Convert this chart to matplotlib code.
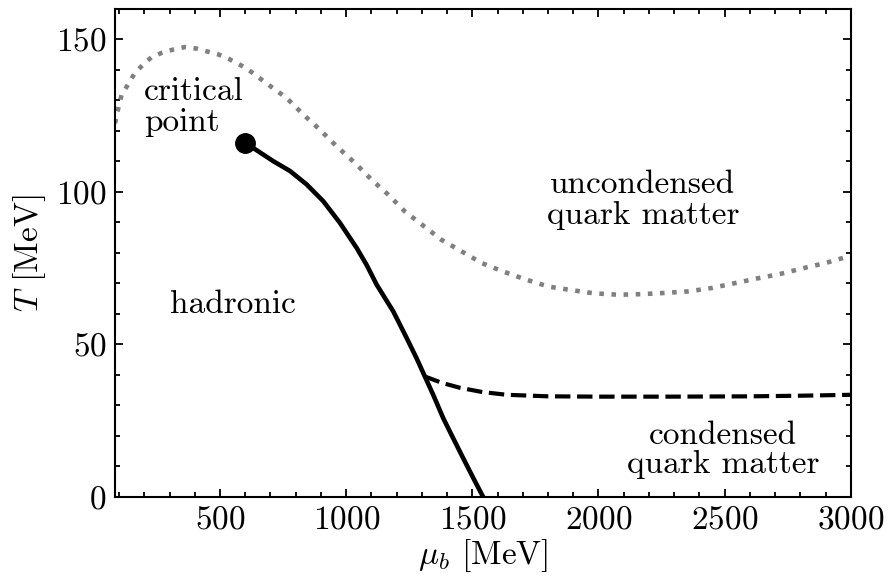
import numpy as np
import matplotlib
matplotlib.use("Agg")
import matplotlib.pyplot as plt
from matplotlib.ticker import MultipleLocator

plt.rcParams['font.family'] = 'serif'
plt.rcParams['font.serif'] = ['cmr10']
plt.rcParams['mathtext.fontset'] = 'cm'
plt.rcParams['axes.formatter.use_mathtext'] = True
plt.rcParams['font.size'] = 24

# dotted crossover line (gray)
mu_cross = [84, 91, 110, 137, 163, 196, 229, 269, 315, 361, 408, 447, 493, 533, 573,
            612, 652, 691, 764, 830, 896, 962, 1035, 1101, 1167, 1233, 1305, 1378,
            1458, 1537, 1623, 1708, 1801, 1887, 1979, 2078, 2171, 2263, 2355, 2448,
            2540, 2626, 2719, 2811, 2904, 3000]
T_cross = [122.5, 125.4, 131.9, 135.4, 139.1, 141.8, 144.2, 145.6, 146.7, 147.5, 147.0,
           146.1, 145.1, 143.7, 142.0, 140.1, 137.6, 135.2, 130.8, 125.4, 120.4, 115.0,
           109.5, 104.0, 99.1, 93.6, 89.0, 84.3, 80.5, 76.7, 73.9, 71.4, 69.0, 67.9,
           66.8, 66.3, 66.5, 66.9, 67.4, 68.5, 70.1, 71.6, 73.1, 75.0, 76.8, 79.1]

# first-order transition line (solid)
mu_first = [599, 711, 777, 843, 909, 975, 1042, 1081, 1121, 1187, 1240, 1279, 1312,
            1345, 1385, 1424, 1464, 1504, 1543]
T_first = [116.2, 110.1, 106.9, 102.5, 97.0, 89.9, 81.6, 76.1, 69.6, 60.8, 52.1, 45.5,
           39.5, 33.5, 25.8, 19.3, 12.7, 6.2, 0.0]

# condensation line (dashed)
mu_cond = [1312, 1380, 1451, 1540, 1637, 1800, 2000, 2300, 2600, 2800, 3000]
T_cond = [39.5, 37.4, 35.8, 34.4, 33.5, 33.0, 32.9, 32.9, 33.0, 33.2, 33.5]

# critical point
mu_cp = [599]
T_cp = [116.2]

fig = plt.figure(figsize=(8.89, 5.81), dpi=100)
ax = fig.add_axes([0.1294, 0.1446, 0.8276, 0.84])

ax.plot(mu_cross, T_cross, ':', color='gray', lw=3.3)
ax.plot(mu_first, T_first, '-', color='black', lw=3.3)
ax.plot(mu_cond, T_cond, '--', color='black', lw=3.0)
ax.plot(mu_cp, T_cp, 'o', color='black', ms=14)

ax.text(200, 128.0, 'critical\npoint', ha='left', va='center', linespacing=1.08)
ax.text(300, 63, 'hadronic', ha='left', va='center')
ax.text(2176, 97.5, 'uncondensed\nquark matter', ha='center', va='center', linespacing=1.08)
ax.text(2493, 15.4, 'condensed\nquark matter', ha='center', va='center', linespacing=1.0)

ax.set_xlim(84, 3000)
ax.set_ylim(0, 160)
ax.set_xlabel(r'$\mu_b$ [MeV]', labelpad=2)
ax.set_ylabel(r'$T$ [MeV]', labelpad=6)

ax.xaxis.set_major_locator(MultipleLocator(500))
ax.xaxis.set_minor_locator(MultipleLocator(100))
ax.yaxis.set_major_locator(MultipleLocator(50))
ax.yaxis.set_minor_locator(MultipleLocator(10))
ax.tick_params(which='both', direction='in', top=True, right=True, width=1.3)
ax.tick_params(which='major', length=6, pad=6)
ax.tick_params(which='minor', length=3.5)
for s in ax.spines.values():
    s.set_linewidth(1.5)

fig.savefig('out.png', dpi=100)
